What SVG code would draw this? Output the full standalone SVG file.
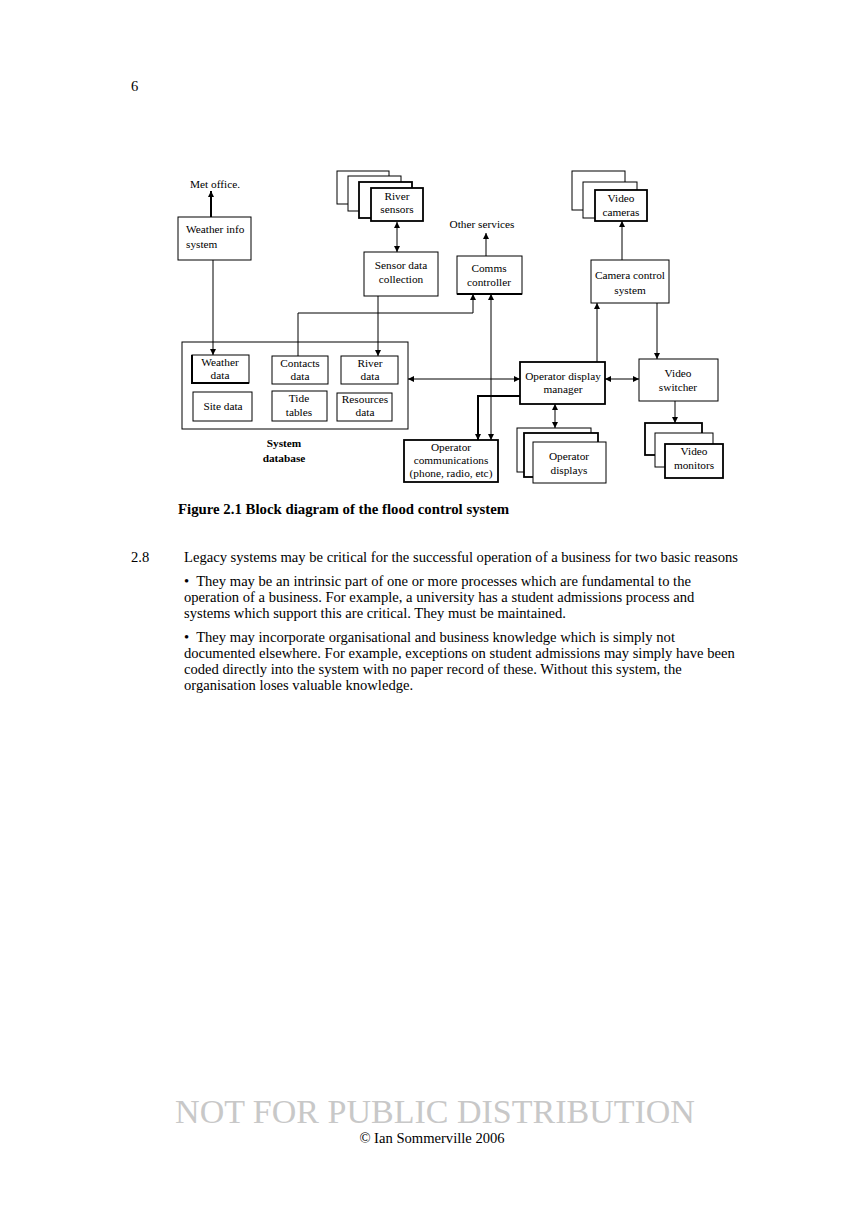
<svg xmlns="http://www.w3.org/2000/svg" width="868" height="1228" viewBox="0 0 868 1228">
<style>
text{font-family:"Liberation Serif","Times New Roman",serif;fill:#000}
.d{font-size:11.3px}
.c{text-anchor:middle}
.b{font-weight:bold}
.body{font-size:14.6px}
.cap{font-size:14.8px;font-weight:bold}
rect{fill:#fff;stroke:#000;stroke-width:1}
.t{stroke-width:1.8}
.ln{fill:none;stroke:#000;stroke-width:1}
.lt{fill:none;stroke:#000;stroke-width:2}
</style>
<defs>
<marker id="ah" viewBox="0 0 10 10" refX="10" refY="5" markerWidth="6" markerHeight="6" markerUnits="userSpaceOnUse" orient="auto-start-reverse">
<path d="M0,0 L10,5 L0,10 z" fill="#000"/>
</marker>
</defs>
<rect x="0" y="0" width="868" height="1228" style="stroke:none;fill:#fff"/>
<text x="131" y="91" class="body">6</text>

<g id="met-office"><text x="190" y="188" class="d">Met office.</text></g>
<g id="weather-info">
<rect x="178" y="217" width="73" height="43"/>
<text x="186" y="233" class="d">Weather info</text>
<text x="186" y="248" class="d">system</text>
</g>
<g id="river-sensors">
<rect x="337" y="171" width="52" height="33"/>
<rect x="348" y="176" width="53" height="35"/>
<rect x="359" y="182" width="53" height="36" class="t"/>
<rect x="371" y="188" width="52" height="33" class="t"/>
<text x="397" y="200" class="d c">River</text>
<text x="397" y="213" class="d c">sensors</text>
</g>
<g id="other-services"><text x="482" y="228" class="d c">Other services</text></g>
<g id="sensor-data-collection">
<rect x="364" y="252" width="74" height="44"/>
<text x="401" y="269" class="d c">Sensor data</text>
<text x="401" y="283" class="d c">collection</text>
</g>
<g id="comms-controller">
<rect x="457" y="256" width="65" height="38"/>
<line x1="457" y1="294" x2="522" y2="294" stroke="#000" stroke-width="2"/>
<text x="489" y="272" class="d c">Comms</text>
<text x="489" y="286" class="d c">controller</text>
</g>
<g id="video-cameras">
<rect x="572" y="171" width="53" height="39"/>
<rect x="583" y="182" width="54" height="36"/>
<rect x="595" y="190" width="52" height="31" class="t"/>
<text x="621" y="202" class="d c">Video</text>
<text x="621" y="216" class="d c">cameras</text>
</g>
<g id="camera-control">
<rect x="591" y="260" width="78" height="43"/>
<text x="630" y="279" class="d c">Camera control</text>
<text x="630" y="294" class="d c">system</text>
</g>
<g id="system-database">
<rect x="182" y="342" width="226" height="87"/>
<text x="284" y="447" class="d c b">System</text>
<text x="284" y="462" class="d c b">database</text>
</g>
<g id="weather-data">
<rect x="192" y="355" width="57" height="28"/>
<polyline points="192,355 192,383 249,383" fill="none" stroke="#000" stroke-width="2"/>
<text x="220" y="366" class="d c">Weather</text>
<text x="220" y="379" class="d c">data</text>
</g>
<g id="contacts-data">
<rect x="272" y="356" width="56" height="28"/>
<text x="300" y="367" class="d c">Contacts</text>
<text x="300" y="380" class="d c">data</text>
</g>
<g id="river-data">
<rect x="341" y="356" width="57" height="28"/>
<text x="370" y="367" class="d c">River</text>
<text x="370" y="380" class="d c">data</text>
</g>
<g id="site-data">
<rect x="193" y="392" width="59" height="29"/>
<text x="223" y="410" class="d c">Site data</text>
</g>
<g id="tide-tables">
<rect x="272" y="391" width="55" height="30"/>
<text x="299" y="402" class="d c">Tide</text>
<text x="299" y="416" class="d c">tables</text>
</g>
<g id="resources-data">
<rect x="337" y="393" width="55" height="28"/>
<text x="365" y="403" class="d c">Resources</text>
<text x="365" y="416" class="d c">data</text>
</g>
<g id="operator-display-manager">
<rect x="520" y="362" width="85" height="42" class="t"/>
<text x="563" y="380" class="d c">Operator display</text>
<text x="563" y="393" class="d c">manager</text>
</g>
<g id="video-switcher">
<rect x="639" y="359" width="79" height="42"/>
<text x="678" y="377" class="d c">Video</text>
<text x="678" y="391" class="d c">switcher</text>
</g>
<g id="operator-communications">
<rect x="404" y="440" width="94" height="42" class="t"/>
<text x="451" y="451" class="d c">Operator</text>
<text x="451" y="464" class="d c">communications</text>
<text x="451" y="477" class="d c">(phone, radio, etc)</text>
</g>
<g id="operator-displays">
<rect x="517" y="428" width="74" height="44"/>
<rect x="524" y="433" width="74" height="44" class="t"/>
<rect x="533" y="442" width="73" height="41"/>
<text x="569" y="460" class="d c">Operator</text>
<text x="569" y="474" class="d c">displays</text>
</g>
<g id="video-monitors">
<rect x="645" y="423" width="57" height="32" class="t"/>
<rect x="655" y="433" width="58" height="34"/>
<rect x="665" y="444" width="58" height="34" class="t"/>
<text x="694" y="455" class="d c">Video</text>
<text x="694" y="469" class="d c">monitors</text>
</g>

<g id="connectors">
<line class="lt" x1="211" y1="217" x2="211" y2="191" marker-end="url(#ah)"/>
<line class="ln" x1="213" y1="260" x2="213" y2="355" marker-end="url(#ah)"/>
<line class="ln" x1="397" y1="222" x2="397" y2="252" marker-start="url(#ah)" marker-end="url(#ah)"/>
<line class="ln" x1="378" y1="296" x2="378" y2="356" marker-end="url(#ah)"/>
<polyline class="ln" points="298,356 298,313 473,313 473,294" marker-end="url(#ah)"/>
<line class="ln" x1="486" y1="256" x2="486" y2="233" marker-end="url(#ah)"/>
<line class="ln" x1="491" y1="294" x2="491" y2="440" marker-start="url(#ah)" marker-end="url(#ah)"/>
<line class="ln" x1="408" y1="379" x2="520" y2="379" marker-start="url(#ah)" marker-end="url(#ah)"/>
<line class="ln" x1="605" y1="379" x2="639" y2="379" marker-start="url(#ah)" marker-end="url(#ah)"/>
<line class="ln" x1="597" y1="362" x2="597" y2="303" marker-end="url(#ah)"/>
<line class="ln" x1="657" y1="303" x2="657" y2="359" marker-end="url(#ah)"/>
<line class="ln" x1="622" y1="260" x2="622" y2="221" marker-end="url(#ah)"/>
<polyline class="lt" points="520,396 478,396 478,440" marker-end="url(#ah)"/>
<line class="ln" x1="555" y1="404" x2="555" y2="428" marker-start="url(#ah)" marker-end="url(#ah)"/>
<line class="ln" x1="675" y1="401" x2="675" y2="423" marker-end="url(#ah)"/>
</g>

<text x="178" y="514" class="cap">Figure 2.1 Block diagram of the flood control system</text>

<g id="body-text">
<text x="131" y="562" class="body">2.8</text>
<text x="184" y="562" class="body">Legacy systems may be critical for the successful operation of a business for two basic reasons</text>
<text x="184" y="586" class="body">•&#160; They may be an intrinsic part of one or more processes which are fundamental to the</text>
<text x="184" y="602" class="body">operation of a business. For example, a university has a student admissions process and</text>
<text x="184" y="618" class="body">systems which support this are critical. They must be maintained.</text>
<text x="184" y="642" class="body">•&#160; They may incorporate organisational and business knowledge which is simply not</text>
<text x="184" y="658" class="body">documented elsewhere. For example, exceptions on student admissions may simply have been</text>
<text x="184" y="674" class="body">coded directly into the system with no paper record of these. Without this system, the</text>
<text x="184" y="690" class="body">organisation loses valuable knowledge.</text>
</g>

<text x="435" y="1123" text-anchor="middle" style="font-size:34px;fill:#c8c8c8">NOT FOR PUBLIC DISTRIBUTION</text>
<text x="432" y="1143" text-anchor="middle" class="body">© Ian Sommerville 2006</text>
</svg>
